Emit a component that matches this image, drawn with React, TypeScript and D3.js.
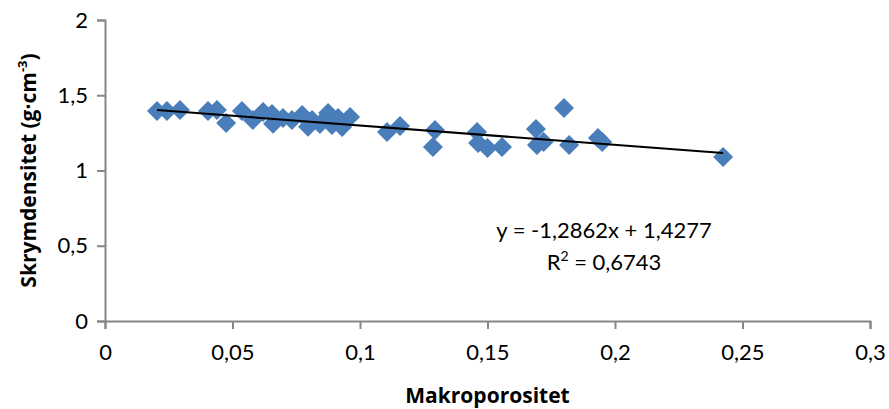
import React, { useEffect, useRef } from "react";
import * as d3 from "d3";

// Makroporositet (x) vs Skrymdensitet (y)
const xValues = [
  0.0204, 0.0243, 0.0294, 0.0404, 0.0439, 0.0475, 0.0537, 0.058, 0.062, 0.0655,
  0.0659, 0.0698, 0.0733, 0.0773, 0.0796, 0.0812, 0.0843, 0.0875, 0.089, 0.0914,
  0.093, 0.0961, 0.1106, 0.1157, 0.1294, 0.1286, 0.1459, 0.1463, 0.150, 0.1557,
  0.169, 0.1694, 0.172, 0.180, 0.182, 0.1933, 0.195, 0.2424,
];
const yValues = [
  1.395, 1.395, 1.402, 1.395, 1.402, 1.316, 1.395, 1.336, 1.389, 1.375,
  1.31, 1.349, 1.336, 1.369, 1.29, 1.336, 1.309, 1.382, 1.302, 1.349,
  1.289, 1.356, 1.256, 1.296, 1.269, 1.156, 1.256, 1.183, 1.15, 1.156,
  1.276, 1.169, 1.189, 1.415, 1.169, 1.216, 1.189, 1.09,
];
const xTicks = [0, 0.05, 0.1, 0.15, 0.2, 0.25, 0.3];
const yTicks = [0, 0.5, 1, 1.5, 2];
const slope = -1.2862;
const intercept = 1.4277;
const eqLabel = "y = -1,2862x + 1,4277";
const r2Value = "0,6743";

const comma = (d: number) => String(d).replace(".", ",");

export default function App() {
  const ref = useRef<SVGSVGElement>(null);

  useEffect(() => {
    const width = 889;
    const height = 409;
    const margin = { top: 20, right: 19, bottom: 88, left: 105 };
    const font = "Lato, 'Open Sans', sans-serif";
    const boldFont = "'Open Sans', Lato, sans-serif";

    const svg = d3.select(ref.current);
    svg.selectAll("*").remove();

    const x = d3.scaleLinear().domain([0, 0.3]).range([margin.left, width - margin.right]);
    const y = d3.scaleLinear().domain([0, 2]).range([height - margin.bottom, margin.top]);

    const axisColor = "#868686";

    const gx = svg.append("g")
      .attr("transform", `translate(0,${y(0)})`)
      .call(d3.axisBottom(x).tickValues(xTicks).tickSize(8).tickFormat((d) => comma(d as number)));
    gx.select(".domain").attr("stroke", axisColor).attr("stroke-width", 2);
    gx.selectAll(".tick line").attr("stroke", axisColor).attr("stroke-width", 2);
    gx.selectAll(".tick text")
      .attr("fill", "#000").attr("font-size", 22).attr("font-family", font).attr("y", 16).attr("dy", "1.05em");

    const gy = svg.append("g")
      .attr("transform", `translate(${x(0)},0)`)
      .call(d3.axisLeft(y).tickValues(yTicks).tickSize(8).tickFormat((d) => comma(d as number)));
    gy.select(".domain").attr("stroke", axisColor).attr("stroke-width", 2);
    gy.selectAll(".tick line").attr("stroke", axisColor).attr("stroke-width", 2);
    gy.selectAll(".tick text")
      .attr("fill", "#000").attr("font-size", 22).attr("font-family", font).attr("x", -17);

    // markers
    const diamond = d3.symbol().type(d3.symbolSquare).size(200);
    svg.append("g")
      .selectAll("path")
      .data(xValues.map((v, i) => [v, yValues[i]]))
      .enter()
      .append("path")
      .attr("d", diamond)
      .attr("transform", (d) => `translate(${x(d[0])},${y(d[1])}) rotate(45)`)
      .attr("fill", "#4a7ebb");

    // trendline
    const x0 = d3.min(xValues)!;
    const x1 = d3.max(xValues)!;
    svg.append("line")
      .attr("x1", x(x0)).attr("y1", y(slope * x0 + intercept))
      .attr("x2", x(x1)).attr("y2", y(slope * x1 + intercept))
      .attr("stroke", "#000").attr("stroke-width", 2);

    // equation
    svg.append("text")
      .attr("x", 604).attr("y", 238)
      .attr("text-anchor", "middle").attr("font-size", 22).attr("font-family", font)
      .text(eqLabel);
    const r2 = svg.append("text")
      .attr("x", 604).attr("y", 270)
      .attr("text-anchor", "middle").attr("font-size", 22).attr("font-family", font);
    r2.append("tspan").text("R");
    r2.append("tspan").attr("font-size", 14).attr("dy", -9).text("2");
    r2.append("tspan").attr("dy", 9).text(` = ${r2Value}`);

    // axis titles
    svg.append("text")
      .attr("x", x(0.15)).attr("y", 403)
      .attr("text-anchor", "middle").attr("font-size", 21).attr("font-weight", "bold").attr("font-family", boldFont)
      .text("Makroporositet");

    const yt = svg.append("text")
      .attr("transform", `translate(36,${(y(0) + y(2)) / 2}) rotate(-90)`)
      .attr("text-anchor", "middle").attr("font-size", 21).attr("font-weight", "bold").attr("font-family", boldFont);
    yt.append("tspan").text("Skrymdensitet (g·cm");
    yt.append("tspan").attr("font-size", 13).attr("dy", -9).text("-3");
    yt.append("tspan").attr("dy", 9).text(")");
  }, []);

  return (
    <svg
      ref={ref}
      width={889}
      height={409}
      style={{ position: "absolute", left: 0, top: 0, background: "#fff", display: "block" }}
    ></svg>
  );
}
